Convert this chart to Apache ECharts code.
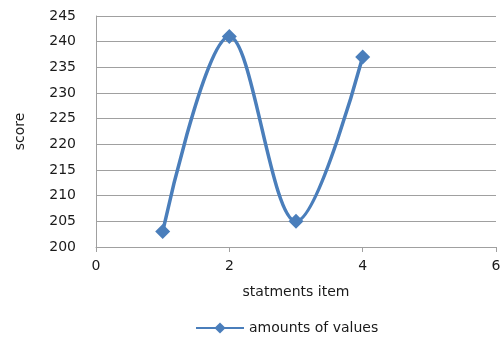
<!DOCTYPE html>
<html>
<head>
<meta charset="utf-8">
<script src="https://cdn.jsdelivr.net/npm/echarts@6/dist/echarts.min.js"></script>
<style>
    html, body { margin: 0; padding: 0; background: #fff; }
    #chart { width: 504px; height: 338px; }
</style>
</head>
<body>
<div id="chart"></div>
<script>
// data
const itemNo = [1, 2, 3, 4];
const scores = [203, 241, 205, 237];
const seriesName = 'amounts of values';

const lineColor = '#4a7ebb';
const fontFamily = 'DejaVu Sans';

const myChart = echarts.init(document.getElementById('chart'));
const option = {
    animation: false,
    grid: {
        left: 96,
        right: 8,
        top: 16,
        bottom: 91
    },
    legend: {
        top: 316,
        left: 190,
        itemWidth: 48,
        itemHeight: 14,
        itemGap: 4,
        data: [seriesName],
        textStyle: { color: '#1a1a1a', fontSize: 14, fontFamily: fontFamily }
    },
    xAxis: {
        type: 'value',
        min: 0,
        max: 6,
        interval: 2,
        name: 'statments item',
        nameLocation: 'middle',
        nameGap: 38,
        nameTextStyle: { color: '#1a1a1a', fontSize: 14, fontFamily: fontFamily },
        axisLine: { show: true, onZero: false, lineStyle: { color: '#a0a0a0', width: 1 } },
        axisTick: { show: true, length: 5, lineStyle: { color: '#a0a0a0' } },
        axisLabel: { color: '#1a1a1a', fontSize: 14, fontFamily: fontFamily, margin: 12 },
        splitLine: { show: false }
    },
    yAxis: {
        type: 'value',
        min: 200,
        max: 245,
        interval: 5,
        name: 'score',
        nameLocation: 'middle',
        nameGap: 69,
        nameTextStyle: { color: '#1a1a1a', fontSize: 14, fontFamily: fontFamily },
        axisLine: { show: true, lineStyle: { color: '#a0a0a0', width: 1 } },
        axisTick: { show: false },
        axisLabel: { color: '#1a1a1a', fontSize: 14, fontFamily: fontFamily, margin: 20 },
        splitLine: { show: true, lineStyle: { color: '#a0a0a0', width: 1 } }
    },
    series: [{
        name: seriesName,
        type: 'line',
        smooth: 0.35, // excel-like smoothing
        data: itemNo.map((x, i) => [x, scores[i]]),
        symbol: 'diamond',
        symbolSize: 15,
        lineStyle: { color: lineColor, width: 3.5 },
        itemStyle: { color: lineColor }
    }]
};
myChart.setOption(option);
</script>
</body>
</html>
